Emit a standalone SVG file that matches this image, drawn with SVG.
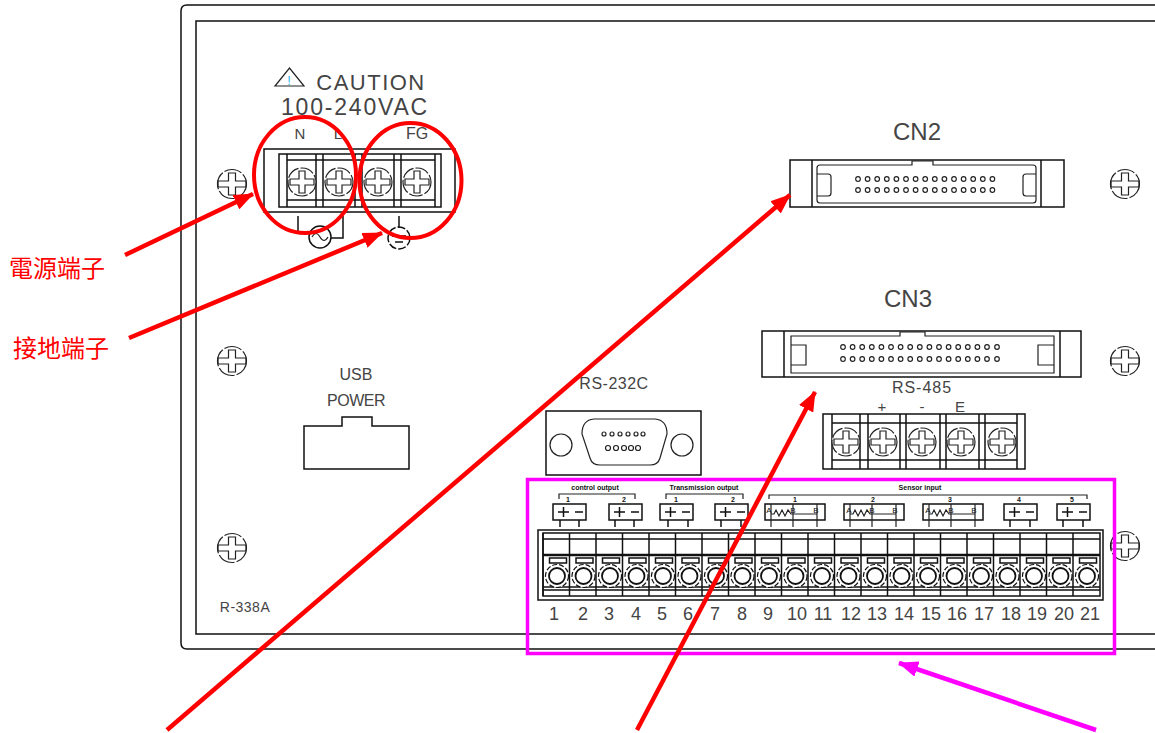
<svg xmlns="http://www.w3.org/2000/svg" width="1155" height="733" viewBox="0 0 1155 733">
<style>
.l{fill:none;stroke:#222;stroke-width:1.2}
.b{fill:none;stroke:#111;stroke-width:1.5}
.t{font-family:"Liberation Sans",Arial,sans-serif;fill:#444;text-anchor:middle}
.s{font-size:7px;fill:#111;font-weight:bold}
.n{font-size:18px}
.m{font-size:8px;fill:#111}
.cn{font-family:"Noto Sans CJK TC","Noto Sans CJK SC",sans-serif;font-size:24px;fill:#f00000}
.pn{fill:#fff;stroke:#222;stroke-width:1.2}
.sig{font-size:16px}
</style>
<defs>
<marker id="ar" viewBox="0 0 20 16" refX="19" refY="8" markerWidth="20" markerHeight="16" markerUnits="userSpaceOnUse" orient="auto"><path d="M0 0L20 8L0 16z" fill="#ff0000"/></marker>
<marker id="am" viewBox="0 0 20 16" refX="19" refY="8" markerWidth="20" markerHeight="16" markerUnits="userSpaceOnUse" orient="auto"><path d="M0 0L20 8L0 16z" fill="#ff00ff"/></marker>
<g id="screw"><circle r="14" fill="#fff" stroke="#222" stroke-width="1.2" stroke-dasharray="14 2"/><path class="l" d="M-3 -11H3V-3H12V3H3V11H-3V3H-12V-3H-3z"/></g>
<g id="wall"><circle r="14.5" fill="#fff" stroke="#222" stroke-width="1.2" stroke-dasharray="18 2"/><path class="l" d="M-3.5 -11H3.5V-3H14V3H3.500V11H-3.500V3H-14V-3H-3.500z"/></g>
<g id="cell"><path class="b" d="M0 533V596"/><rect class="b" x="6.500" y="558" width="17" height="5"/><circle cx="14" cy="576" r="11.500" fill="#fff" stroke="#111" stroke-width="1.200" stroke-dasharray="5 2"/><circle cx="14" cy="576" r="8" fill="#fff" stroke="#111" stroke-width="1.800"/></g>
<g id="pins5"><circle class="pn" cx="0" r="2.300"/><circle class="pn" cx="9.600" r="2.300"/><circle class="pn" cx="19.200" r="2.300"/><circle class="pn" cx="28.800" r="2.300"/><circle class="pn" cx="38.400" r="2.300"/></g>
<g id="pm"><rect class="b" width="33" height="16"/><path class="b" d="M5 8H16M10.500 3V13M22 8H30"/></g>
<g id="sens"><rect class="b" width="60" height="16"/><path class="l" d="M6 0V23M28 0V23M52 0V23M6 10H9L11 6L14 12L17 6L20 12L23 6L26 10H52" /></g>
</defs>
<g id="panel">
<path class="b" d="M1155 5H187Q181 5 181 11V643Q181 649 187 649H1155"/>
<path class="b" d="M1155 21H196V634H1155"/>
<text class="t" x="245" y="612" font-size="14" letter-spacing="0.500">R-338A</text>
</g>
<g id="mount-screws">
<use href="#wall" x="232" y="184"/><use href="#wall" x="232" y="361"/><use href="#wall" x="232" y="548"/>
<use href="#wall" x="1125" y="184"/><use href="#wall" x="1125" y="361"/><use href="#wall" x="1125" y="546"/>
</g>
<g id="power-terminal">
<path class="l" d="M275 86H304L289.500 68z"/>
<text class="t" x="289" y="85" font-size="13" style="fill:#2ab5e8">!</text>
<text class="t" x="371" y="90" font-size="22" letter-spacing="1.500">CAUTION</text>
<text class="t" x="355" y="115" font-size="23" letter-spacing="1.800">100-240VAC</text>
<text class="t" x="300" y="139" font-size="15">N</text><text class="t" x="338" y="139" font-size="15">L</text><text class="t" x="417" y="139" font-size="16">FG</text>
<rect class="b" x="264" y="149" width="191" height="63"/>
<rect class="b" x="279" y="154" width="162" height="53"/>
<path class="b" d="M287 154V207M316 154V207M323 154V207M355 154V207M362 154V207M394 154V207M401 154V207M287 160H435M287 200H435M435 154V207"/>
<use href="#screw" x="302" y="182"/><use href="#screw" x="339" y="182"/><use href="#screw" x="378" y="182"/><use href="#screw" x="417" y="182"/>
<path class="b" d="M298 216V232H310M343 216V238H331M399 216V228"/>
<circle class="b" cx="320" cy="237" r="11"/><path class="l" d="M312 237Q316 230 320 237T328 237"/>
<circle class="b" cx="399" cy="238" r="11" stroke-dasharray="8 2"/><path class="b" d="M392 236H406M395 242H403"/>
</g>
<g id="cn2">
<text class="t" x="917" y="140" font-size="24">CN2</text>
<rect class="b" x="790" y="160" width="274" height="47"/>
<path class="b" d="M812 160V207M1041 160V207"/>
<path class="l" d="M820 165H912V161H933V165H1033Q1036 165 1036 168V200Q1036 203 1033 203H820Q817 203 817 200V168Q817 165 820 165z"/>
<path class="l" d="M817 174H828Q831 174 831 177V193Q831 196 828 196H817M1036 174H1026Q1023 174 1023 177V193Q1023 196 1026 196H1036"/>
<use href="#pins5" x="858" y="179"/><use href="#pins5" x="906" y="179"/><use href="#pins5" x="954" y="179"/>
<use href="#pins5" x="858" y="190"/><use href="#pins5" x="906" y="190"/><use href="#pins5" x="954" y="190"/>
</g>
<g id="cn3">
<text class="t" x="908" y="307" font-size="24">CN3</text>
<rect class="b" x="762" y="331" width="319" height="46"/>
<path class="b" d="M784 331V377M1060 331V377"/>
<path class="l" d="M791 336H900V332H925V336H1054V373H791z"/>
<path class="l" d="M791 345H806V365H791M1054 345H1038V365H1054"/>
<use href="#pins5" x="843" y="347"/><use href="#pins5" x="891" y="347"/><use href="#pins5" x="939" y="347"/><circle class="pn" cx="987" cy="347" r="2.300"/><circle class="pn" cx="997" cy="347" r="2.300"/>
<use href="#pins5" x="843" y="359"/><use href="#pins5" x="891" y="359"/><use href="#pins5" x="939" y="359"/><circle class="pn" cx="987" cy="359" r="2.300"/><circle class="pn" cx="997" cy="359" r="2.300"/>
</g>
<g id="rs485">
<text class="t" x="922" y="393" font-size="16" letter-spacing="1">RS-485</text>
<text class="t" x="882" y="412" font-size="15">+</text><text class="t" x="922" y="412" font-size="15">-</text><text class="t" x="960" y="412" font-size="15">E</text>
<rect class="b" x="823" y="414" width="202" height="55"/>
<path class="b" d="M832 414V469M860 414V469M868 414V469M900 414V469M906 414V469M940 414V469M946 414V469M979 414V469M985 414V469M1017 414V469M832 423H1017M832 460H1017"/>
<use href="#screw" x="846" y="442"/><use href="#screw" x="883" y="442"/><use href="#screw" x="922" y="442"/><use href="#screw" x="961" y="442"/><use href="#screw" x="1002" y="442"/>
</g>
<g id="usb-power">
<text class="t sig" x="356" y="380">USB</text><text class="t sig" x="356" y="406" letter-spacing="-0.500">POWER</text>
<path class="b" d="M304 426H342V417H372V426H409V469H304z"/>
</g>
<g id="rs232c">
<text class="t" x="614" y="389" font-size="16" letter-spacing="0.500">RS-232C</text>
<rect class="b" x="546" y="411" width="155" height="64"/>
<circle class="l" cx="561" cy="445" r="11"/><circle class="l" cx="682" cy="445" r="11"/>
<path class="l" d="M594 419H655Q667 420 667 434L660 458Q658 465 650 465H600Q592 465 590 458L582 434Q582 420 594 419z"/>
<circle class="pn" cx="604" cy="434" r="2"/><circle class="pn" cx="612" cy="434" r="2"/><circle class="pn" cx="620" cy="434" r="2"/><circle class="pn" cx="628" cy="434" r="2"/><circle class="pn" cx="636" cy="434" r="2"/><circle class="pn" cx="643" cy="434" r="2"/>
<circle class="pn" cx="608" cy="448" r="2.500"/><circle class="pn" cx="616" cy="448" r="2.500"/><circle class="pn" cx="624" cy="448" r="2.500"/><circle class="pn" cx="631" cy="448" r="2.500"/><circle class="pn" cx="638" cy="448" r="2.500"/>
</g>
<g id="terminal-strip">
<text class="t s" x="595" y="490">control output</text>
<text class="t s" x="704" y="490">Transmission output</text>
<text class="t s" x="920" y="490">Sensor input</text>
<path class="l" d="M559 499V494H635V499M666 499V494H743V499M769 499V495H1087V499"/>
<text class="t s" x="568" y="502">1</text><text class="t s" x="624" y="502">2</text><text class="t s" x="676" y="502">1</text><text class="t s" x="733" y="502">2</text>
<text class="t s" x="795" y="502">1</text><text class="t s" x="873" y="502">2</text><text class="t s" x="950" y="502">3</text><text class="t s" x="1019" y="502">4</text><text class="t s" x="1072" y="502">5</text>
<use href="#pm" x="553" y="504"/><use href="#pm" x="609" y="504"/><use href="#pm" x="660" y="504"/><use href="#pm" x="715" y="504"/><use href="#pm" x="1004" y="504"/><use href="#pm" x="1057" y="504"/>
<use href="#sens" x="765" y="504"/><use href="#sens" x="844" y="504"/><use href="#sens" x="923" y="504"/>
<text class="t m" x="769" y="513">A</text><text class="t m" x="793" y="513">B</text><text class="t m" x="816" y="513">B</text>
<text class="t m" x="849" y="513">A</text><text class="t m" x="872" y="513">B</text><text class="t m" x="895" y="513">B</text>
<text class="t m" x="928" y="513">A</text><text class="t m" x="951" y="513">B</text><text class="t m" x="974" y="513">B</text>
<path class="b" d="M560 520V527M579 520V527M615 520V527M634 520V527M668 520V527M688 520V527M721 520V527M741 520V527M1010 520V527M1030 520V527M1063 520V527M1083 520V527"/>
<rect class="b" x="538" y="530" width="565" height="70"/>
<rect class="b" x="543" y="533" width="557" height="63"/>
<path class="b" d="M543 539H1100M543 555H1100M543 587H1100M543 590H1100"/>
<path d="M543 555H1100" stroke="#111" stroke-width="2.500"/>
<use href="#cell" x="543"/><use href="#cell" x="569.500"/><use href="#cell" x="596"/><use href="#cell" x="622.500"/><use href="#cell" x="649"/><use href="#cell" x="675.500"/><use href="#cell" x="702"/><use href="#cell" x="728.500"/><use href="#cell" x="755"/><use href="#cell" x="781.500"/><use href="#cell" x="808"/><use href="#cell" x="834.500"/><use href="#cell" x="861"/><use href="#cell" x="887.500"/><use href="#cell" x="914"/><use href="#cell" x="940.500"/><use href="#cell" x="967"/><use href="#cell" x="993.500"/><use href="#cell" x="1020"/><use href="#cell" x="1046.500"/><use href="#cell" x="1073"/>
<text class="t n" x="554" y="620">1</text><text class="t n" x="583" y="620">2</text><text class="t n" x="609" y="620">3</text><text class="t n" x="636" y="620">4</text><text class="t n" x="662" y="620">5</text><text class="t n" x="688" y="620">6</text><text class="t n" x="715" y="620">7</text><text class="t n" x="742" y="620">8</text><text class="t n" x="768" y="620">9</text><text class="t n" x="797" y="620">10</text><text class="t n" x="823" y="620">11</text><text class="t n" x="851" y="620">12</text><text class="t n" x="877" y="620">13</text><text class="t n" x="904" y="620">14</text><text class="t n" x="931" y="620">15</text><text class="t n" x="957" y="620">16</text><text class="t n" x="984" y="620">17</text><text class="t n" x="1011" y="620">18</text><text class="t n" x="1037" y="620">19</text><text class="t n" x="1064" y="620">20</text><text class="t n" x="1090" y="620">21</text>
</g>
<g id="label-power"><text class="cn" x="9" y="277" style="fill:#ff0000">電源端子</text></g>
<g id="label-ground"><text class="cn" x="13" y="357" style="fill:#ff0000">接地端子</text></g>
<g id="highlights">
<ellipse cx="305" cy="175" rx="51" ry="58" fill="none" stroke="#ff0000" stroke-width="4"/>
<ellipse cx="410.500" cy="180.500" rx="51" ry="57.500" fill="none" stroke="#ff0000" stroke-width="4"/>
<rect x="527.500" y="479.500" width="587" height="174" fill="none" stroke="#ff00ff" stroke-width="3.500"/>
</g>
<g id="connectors" fill="none" stroke-width="4.500">
<path d="M125 255L253 194" stroke="#ff0000" marker-end="url(#ar)"/>
<path d="M129 338L382 233" stroke="#ff0000" marker-end="url(#ar)"/>
<path d="M167 730L790 195" stroke="#ff0000" marker-end="url(#ar)"/>
<path d="M637 730L815 392" stroke="#ff0000" marker-end="url(#ar)"/>
<path d="M1096 730L899 663" stroke="#ff00ff" marker-end="url(#am)"/>
</g>
</svg>
